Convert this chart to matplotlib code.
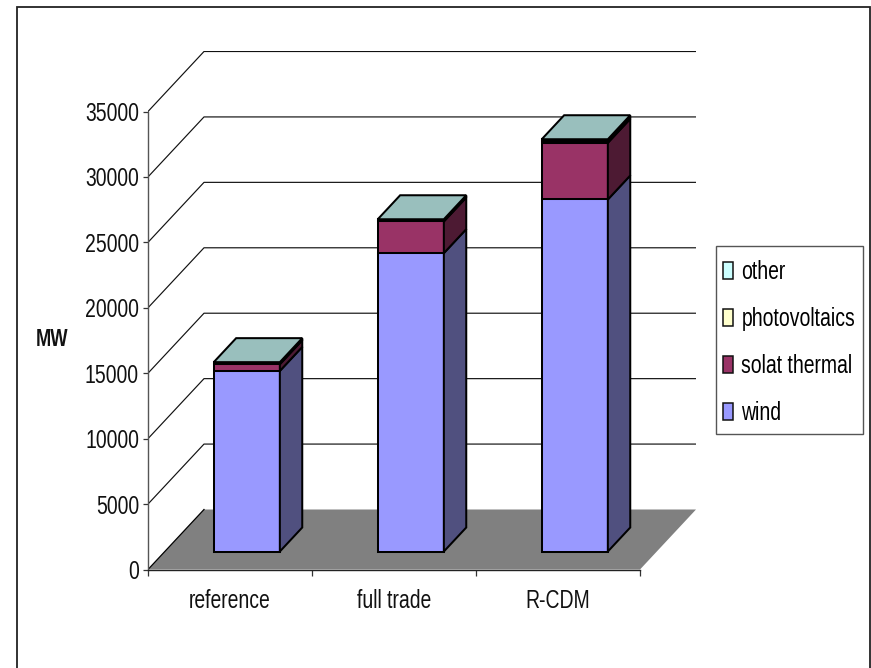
import matplotlib
matplotlib.use("Agg")
import matplotlib.pyplot as plt
from matplotlib import font_manager as fm
from matplotlib.patches import Patch, Rectangle

categories = ["reference", "full trade", "R-CDM"]
wind = [13800, 22800, 26900]
solar_thermal = [510, 2420, 4330]
photovoltaics = [80, 85, 140]
other = [80, 85, 135]
series_names = ["wind", "solat thermal", "photovoltaics", "other"]
y_ticks = [0, 5000, 10000, 15000, 20000, 25000, 30000, 35000]

front_colors = ["#9999FF", "#993366", "#FFFFCC", "#CCFFFF"]
side_colors = ["#50507F", "#4D1A33", "#808066", "#668080"]
top_color = "#99BFBD"


def narrow_font(weight, out_name, family, factor=0.775):
    """Horizontally condensed copy of Liberation Sans (Arial Narrow look-alike)."""
    from fontTools.ttLib import TTFont
    src = fm.findfont(fm.FontProperties(family="Liberation Sans", weight=weight), fallback_to_default=False)
    font = TTFont(src)
    glyf = font["glyf"]
    for name in glyf.keys():
        g = glyf[name]
        if g.isComposite():
            for c in g.components:
                c.x = round(c.x * factor)
        elif g.numberOfContours > 0:
            g.coordinates.scale((factor, 1))
            g.coordinates.toInt()
        g.removeHinting()
        g.recalcBounds(glyf)
    hmtx = font["hmtx"]
    for name, (adv, lsb) in list(hmtx.metrics.items()):
        hmtx.metrics[name] = (round(adv * factor), round(lsb * factor))
    for tag in ["fpgm", "prep", "cvt ", "hdmx", "VDMX", "LTSH", "kern", "GPOS"]:
        if tag in font:
            del font[tag]
    for rec in font["name"].names:
        if rec.nameID in (1, 16):
            rec.string = family
        elif rec.nameID == 4:
            rec.string = family + (" Bold" if weight == "bold" else "")
        elif rec.nameID == 6:
            rec.string = family.replace(" ", "") + ("-Bold" if weight == "bold" else "-Regular")
    font.save(out_name)
    fm.fontManager.addfont(out_name)


FAMILY = "Resketch Narrow"
try:
    narrow_font("normal", "narrow.ttf", FAMILY)
    narrow_font("bold", "narrow-bold.ttf", FAMILY)
    plt.rcParams["font.family"] = [FAMILY, "Liberation Sans"]
    BASE = 18
except Exception:
    plt.rcParams["font.family"] = ["Liberation Sans"]
    BASE = 14

W, H = 871, 668
fig = plt.figure(figsize=(W / 100, H / 100), dpi=100, facecolor="white")
# outer frame runs past the bottom of the picture
fig.add_artist(Rectangle((16.5 / W, 1 - 680 / H), (869.5 - 16.5) / W, (680 - 6.5) / H,
                         transform=fig.transFigure, fill=False, ec="#222222", lw=1.3))

# pixel layout of the plot box
px_left, px_right, px_bottom, px_top = 148.0, 696.0, 569.5, 51.0
cat_px = (640.0 - 148.0) / 3
mw_px = (569.5 - 111.5) / 35000
ax = fig.add_axes([px_left / W, 1 - px_bottom / H, (px_right - px_left) / W, (px_bottom - px_top) / H])
ax.set_xlim(0, (px_right - px_left) / cat_px)
ax.set_ylim(0, (px_bottom - px_top) / mw_px)
ax.patch.set_visible(False)

depth_x = (px_right - 640.0) / cat_px
depth_y = 60.0 / mw_px

# floor
n = len(categories)
ax.fill([0, n, n + depth_x, depth_x], [0, 0, depth_y, depth_y], fc="#808080", ec="none", zorder=1)
ax.plot([0, depth_x], [0, depth_y], color="black", lw=0.9, zorder=1.5)

# gridlines on the side and back wall
for v in y_ticks[1:]:
    ax.plot([0, depth_x, n + depth_x], [v, v + depth_y, v + depth_y], color="#111111", lw=0.85, zorder=1.2)

bar_w = 0.403
d0, d1 = 0.3, 0.7
LW = 1.45
for i in range(n):
    x0 = i + 0.5 - bar_w / 2 + d0 * depth_x
    x1 = x0 + bar_w
    x2 = x1 + (d1 - d0) * depth_x
    x3 = x0 + (d1 - d0) * depth_x
    base = d0 * depth_y
    rise = (d1 - d0) * depth_y
    bottom = 0
    for vals, fc, sc in zip([wind, solar_thermal, photovoltaics, other], front_colors, side_colors):
        top = bottom + vals[i]
        ax.fill([x0, x1, x1, x0], [base + bottom, base + bottom, base + top, base + top],
                fc=fc, ec="black", lw=LW, zorder=3, joinstyle="miter")
        ax.fill([x1, x2, x2, x1], [base + bottom, base + bottom + rise, base + top + rise, base + top],
                fc=sc, ec="black", lw=LW, zorder=3, joinstyle="miter")
        bottom = top
    ax.fill([x0, x1, x2, x3], [base + bottom, base + bottom, base + bottom + rise, base + bottom + rise],
            fc=top_color, ec="black", lw=LW, zorder=3, joinstyle="miter")

# axes
for s in ["top", "right"]:
    ax.spines[s].set_visible(False)
ax.spines["left"].set_bounds(0, 35000)
ax.spines["bottom"].set_bounds(0, n)
ax.spines["left"].set_color("#555555")
ax.spines["bottom"].set_color("#222222")
ax.spines["left"].set_linewidth(1.0)
ax.spines["bottom"].set_linewidth(1.0)
ax.set_yticks(y_ticks)
ax.set_yticklabels([str(v) for v in y_ticks])
ax.set_xticks(range(n + 1))
ax.set_xticklabels([""] * (n + 1))
ax.set_xticks([i + 0.5 for i in range(n)], minor=True)
ax.set_xticklabels(categories, minor=True)
ax.tick_params(axis="y", length=3.5, width=0.9, pad=3, labelsize=BASE, color="#333333", labelcolor="#111111")
ax.tick_params(axis="x", which="major", length=4.5, width=0.9, color="#333333")
ax.tick_params(axis="x", which="minor", length=0, pad=14, labelsize=BASE, labelcolor="#111111")

fig.text(52 / W, 1 - 340 / H, "MW", ha="center", va="center", fontsize=BASE - 1, fontweight="bold",
         color="#111111")

# legend box and entries
fig.add_artist(Rectangle((715.5 / W, 1 - 434 / H), (863 - 715.5) / W, (434 - 246) / H,
                         transform=fig.transFigure, fc="white", ec="#555555", lw=1.0, zorder=4))
handles = [Patch(fc=c, ec="#111111", lw=1.1) for c in front_colors[::-1]]
leg = fig.legend(handles, series_names[::-1], loc="upper left",
                 bbox_to_anchor=(723 / W, 1 - 260 / H), bbox_transform=fig.transFigure,
                 fontsize=BASE, frameon=False, borderpad=0, labelspacing=0.918,
                 handlelength=0.397, handleheight=0.66, handletextpad=0.34, borderaxespad=0)
leg.set_zorder(5)

fig.savefig("out.png", dpi=100)
